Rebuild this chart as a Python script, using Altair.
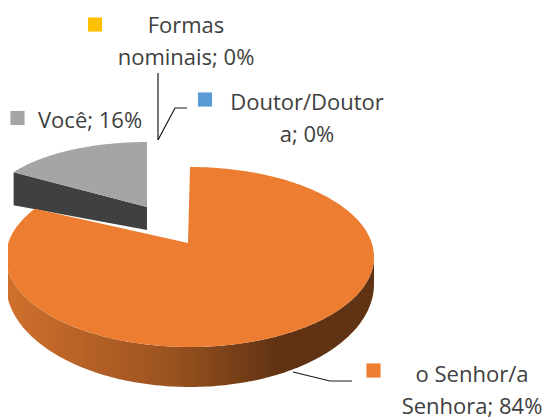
import numpy as np
import pandas as pd
import altair as alt

# ---------------- data ----------------
categories = ["o Senhor/a Senhora", "Você", "Doutor/Doutora", "Formas nominais"]
values = [84, 16, 0, 0]
labels = ["o Senhor/a\nSenhora; 84%", "Você; 16%", "Doutor/Doutor\na; 0%", "Formas\nnominais; 0%"]
colors = ["#ED7D31", "#A5A5A5", "#5B9BD5", "#FFC000"]

# ---------------- layout (pixel space of the 553x419 page) ----------------
X0, X1, Y0, Y1 = 8, 545, 8, 419
# slice geometry: ellipse centre, radii, apex
geom = {
    0: dict(cx=190, cy=257, rx=184, ry=90, ax=188, ay=243),
    1: dict(cx=147, cy=207, rx=158, ry=65, ax=147, ay=207),
}
label_x = [472, 38, 307, 186]
label_y = [382, 128, 110, 33]
label_align = ["center", "left", "center", "center"]
marker_x = [373.5, 17.5, 205, 95]
marker_y = [370.5, 118, 99.5, 24.5]
leader_lines = {
    "senhor": [(293, 372), (330, 381), (352, 381)],
    "formas": [(158, 73), (158, 140)],
    "doutor": [(158, 140), (175, 108), (187, 108)],
}

fr = np.array(values, dtype=float) / sum(values)
ends = np.cumsum(fr) * 360.0
starts = ends - fr * 360.0


def ell(g, th):
    t = np.radians(th)
    return g["cx"] + g["rx"] * np.sin(t), g["cy"] - g["ry"] * np.cos(t)


rows = []


def add_poly(name, pts):
    for i, (x, y) in enumerate(pts):
        rows.append(dict(poly=name, i=i, x=x, y=y))


# orange slice (index 0)
g = geom[0]
th = np.linspace(starts[0], ends[0], 240)
xs, ys = ell(g, th)
add_poly("o_top", [(g["ax"], g["ay"])] + list(zip(xs, ys)))
thw = np.linspace(max(starts[0], 90), min(ends[0], 270), 160)
wx, wy = ell(g, thw)
depth = 27 + 13 * np.clip(-np.cos(np.radians(thw)), 0, None)
add_poly("o_wall", list(zip(wx, wy)) + list(zip(wx[::-1], (wy + depth)[::-1])))

# grey slice (index 1), exploded
g = geom[1]
th = np.linspace(starts[1], ends[1], 80)
xs, ys = ell(g, th)
add_poly("g_top", [(g["ax"], g["ay"])] + list(zip(xs, ys)))
lx, ly = ell(g, starts[1])
add_poly("g_wall", [(g["ax"], g["ay"]), (lx, ly), (lx, ly + 33), (g["ax"], g["ay"] + 23)])

poly = pd.DataFrame(rows)

xs_ = alt.Scale(domain=[X0, X1], nice=False, zero=False)
ys_ = alt.Scale(domain=[Y0, Y1], nice=False, zero=False, reverse=True)


def polygon(name, color):
    return (
        alt.Chart(poly)
        .transform_filter(alt.datum.poly == name)
        .mark_line(filled=True, color=color, strokeWidth=0)
        .encode(
            x=alt.X("x:Q", scale=xs_, axis=None),
            y=alt.Y("y:Q", scale=ys_, axis=None),
            order="i:Q",
        )
    )


wall_grad = alt.Gradient(
    gradient="linear", x1=0, x2=1, y1=0, y2=0,
    stops=[
        alt.GradientStop(offset=0, color="#D0702D"),
        alt.GradientStop(offset=0.45, color="#9A521F"),
        alt.GradientStop(offset=0.75, color="#5E3213"),
        alt.GradientStop(offset=1, color="#603314"),
    ],
)

layers = [
    polygon("g_wall", "#404040"),
    polygon("g_top", colors[1]),
    polygon("o_wall", wall_grad),
    polygon("o_top", colors[0]),
]

# leader lines
lrows = []
for k, pts in leader_lines.items():
    for i, (x, y) in enumerate(pts):
        lrows.append(dict(line=k, i=i, x=x, y=y))
lead = pd.DataFrame(lrows)
layers.append(
    alt.Chart(lead).mark_line(color="#1a1a1a", strokeWidth=1.2).encode(
        x=alt.X("x:Q", scale=xs_, axis=None),
        y=alt.Y("y:Q", scale=ys_, axis=None),
        detail="line:N",
        order="i:Q",
    )
)

lab = pd.DataFrame(dict(cat=categories, text=labels, x=label_x, y=label_y,
                        align=label_align, mx=marker_x, my=marker_y))

layers.append(
    alt.Chart(lab).mark_square(size=200, opacity=1, filled=True).encode(
        x=alt.X("mx:Q", scale=xs_, axis=None),
        y=alt.Y("my:Q", scale=ys_, axis=None),
        color=alt.Color("cat:N", scale=alt.Scale(domain=categories, range=colors), legend=None),
    )
)
for al in ["center", "left"]:
    layers.append(
        alt.Chart(lab).transform_filter(alt.datum.align == al)
        .mark_text(align=al, baseline="alphabetic", font="Open Sans", fontSize=22,
                   color="#404040", lineBreak="\n", lineHeight=32)
        .encode(
            x=alt.X("x:Q", scale=xs_, axis=None),
            y=alt.Y("y:Q", scale=ys_, axis=None),
            text="text:N",
        )
    )

chart = (
    alt.layer(*layers)
    .properties(width=X1 - X0, height=Y1 - Y0, padding=0, autosize="none")
    .configure_view(stroke=None)
)
chart.save("out.html", embed_options={"renderer": "svg", "actions": False})
